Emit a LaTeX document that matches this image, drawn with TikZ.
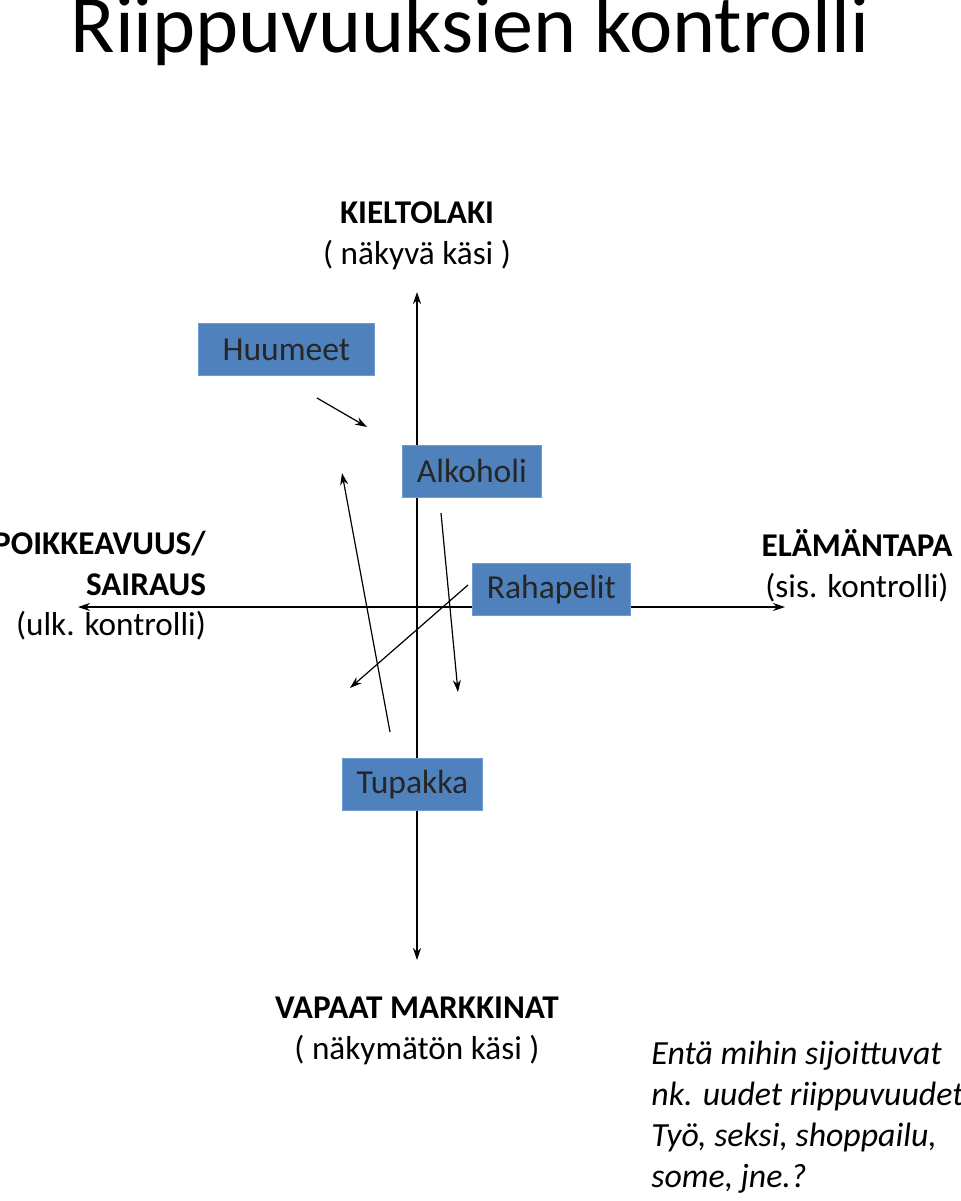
\documentclass[tikz,border=0pt]{standalone}
\usepackage{fontspec}
\setmainfont{Carlito}
\usepackage{tikz}
\usetikzlibrary{arrows.meta,positioning}
\definecolor{boxblue}{HTML}{4F81BD}
\definecolor{boxedge}{HTML}{6F9BD0}

\begin{document}
\begin{tikzpicture}[
    x=0.5pt, y=-0.5pt,
    cat/.style={draw=boxedge, fill=boxblue, minimum height=26pt, anchor=north west, inner sep=0pt, font=\fontsize{16.8}{19}\selectfont, text=black!85},
    axis/.style={{Stealth[length=6pt,width=4pt]}-{Stealth[length=6pt,width=4pt]}, line width=0.6pt},
    arrow/.style={-{Stealth[length=6pt,width=4pt]}, line width=0.6pt},
    pole/.style={align=center, font=\fontsize{16.6}{20.3}\selectfont},
]
    \useasboundingbox (0,0) rectangle (960,1201);
    \node[font=\fontsize{41}{46}\selectfont] (title) at (470,31) {Riippuvuuksien kontrolli};

    % axis poles
    \node[pole] (top) at (417,236) {\textbf{KIELTOLAKI}\\( näkyvä käsi )};
    \node[pole] (bottom) at (417,1031) {\textbf{VAPAAT MARKKINAT}\\( näkymätön käsi )};
    \node[pole, align=right, anchor=east] (left) at (213,586) {\textbf{POIKKEAVUUS/}\\\textbf{SAIRAUS}\\(ulk. kontrolli)};
    \node[pole] (right) at (857,566) {\textbf{ELÄMÄNTAPA}\\(sis. kontrolli)};

    \coordinate (vtop) at (417,292);
    \coordinate (vbot) at (417,960);
    \coordinate (hleft) at (78,607);
    \coordinate (hright) at (785,607);
    \draw[axis] (vbot) -- (vtop);
    \draw[axis] (hleft) -- (hright);

    % substances
    \node[cat, minimum width=88pt] (huumeet) at (198,323) {Huumeet};
    \node[cat, minimum width=69.5pt] (alkoholi) at (402,445) {Alkoholi};
    \node[cat, minimum width=79pt] (rahapelit) at (472,563) {Rahapelit};
    \node[cat, minimum width=70pt] (tupakka) at (342,758) {Tupakka};

    % movements
    \coordinate (h1) at (317,398); \coordinate (h2) at (367,427);
    \coordinate (a1) at (441,513); \coordinate (a2) at (458,692);
    \coordinate (t1) at (390,732); \coordinate (t2) at (342,473);
    \coordinate (r1) at (468,585); \coordinate (r2) at (350,688);
    \draw[arrow] (h1) -- (h2);
    \draw[arrow] (a1) -- (a2);
    \draw[arrow] (t1) -- (t2);
    \draw[arrow] (r1) -- (r2);

    \node[anchor=north west, align=left, inner sep=0pt, font=\fontsize{16.9}{20.5}\selectfont\itshape] (note) at (651,1041)
        {Entä mihin sijoittuvat\\nk. uudet riippuvuudet\\Työ, seksi, shoppailu,\\some, jne.?};
\end{tikzpicture}
\end{document}
